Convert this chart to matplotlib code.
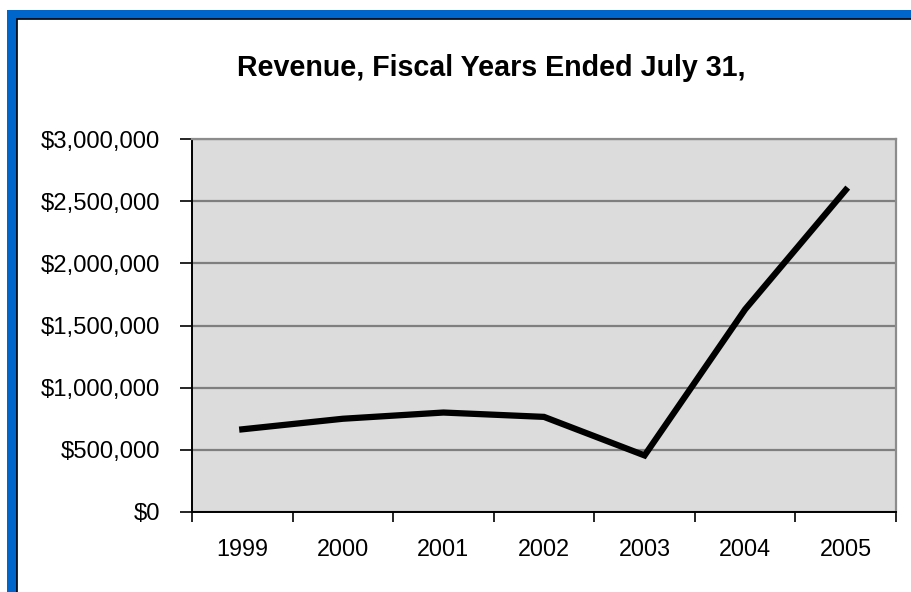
import matplotlib
matplotlib.use("Agg")
import matplotlib.pyplot as plt
from matplotlib.patches import Rectangle
from matplotlib.ticker import FuncFormatter, FixedLocator

plt.rcParams['font.family'] = ['Liberation Sans', 'DejaVu Sans']

years = ['1999', '2000', '2001', '2002', '2003', '2004', '2005']
revenue = [665000, 750000, 800000, 765000, 455000, 1630000, 2590000]
title = 'Revenue, Fiscal Years Ended July 31,'

W, H = 912, 592
fig = plt.figure(figsize=(W / 100, H / 100), dpi=100)
fig.patch.set_facecolor('white')

# Blue frame (extends off right/bottom)
fig.add_artist(Rectangle((7 / W, -0.2), 2, (H - 10) / H + 0.2,
                         transform=fig.transFigure, facecolor='#0066CC',
                         edgecolor='none', zorder=-3))
fig.add_artist(Rectangle((17 / W, -0.2), 2, (H - 19.5) / H + 0.2,
                         transform=fig.transFigure, facecolor='white',
                         edgecolor='black', linewidth=1.2, zorder=-2))

ax = fig.add_axes([192 / W, (H - 512) / H, (896 - 192) / W, (512 - 139) / H])
ax.set_zorder(1)
ax.set_facecolor('#DCDCDC')
x = list(range(len(years)))
ax.plot(x, revenue, color='black', linewidth=4.5, solid_joinstyle='miter', zorder=3)

ax.set_xlim(-0.5, len(years) - 0.5)
ax.set_ylim(0, 3000000)
ax.set_yticks([0, 500000, 1000000, 1500000, 2000000, 2500000, 3000000])
ax.yaxis.set_major_formatter(FuncFormatter(lambda v, p: '${:,.0f}'.format(v)))
ax.grid(axis='y', color='#7F7F7F', linewidth=1.6, zorder=1)
ax.set_axisbelow(True)

ax.set_xticks(x)
ax.set_xticklabels(years)
ax.xaxis.set_minor_locator(FixedLocator([i - 0.5 for i in range(len(years) + 1)]))
ax.tick_params(axis='x', which='major', length=0, pad=19, labelsize=16.8)
ax.tick_params(axis='x', which='minor', length=7, width=1.2, direction='out', color='black')
ax.tick_params(axis='y', length=9, width=1.2, direction='out', color='black', pad=14, labelsize=17.2)

for s in ['left', 'bottom']:
    ax.spines[s].set_color('black')
    ax.spines[s].set_linewidth(1.4)
for s in ['top', 'right']:
    ax.spines[s].set_color('#8C8C8C')
    ax.spines[s].set_linewidth(1.6)

fig.text(491 / W, 1 - 68 / H, title, ha='center', va='center',
         fontsize=20.6, fontweight='bold', color='black')

fig.savefig('out.png', dpi=100)
